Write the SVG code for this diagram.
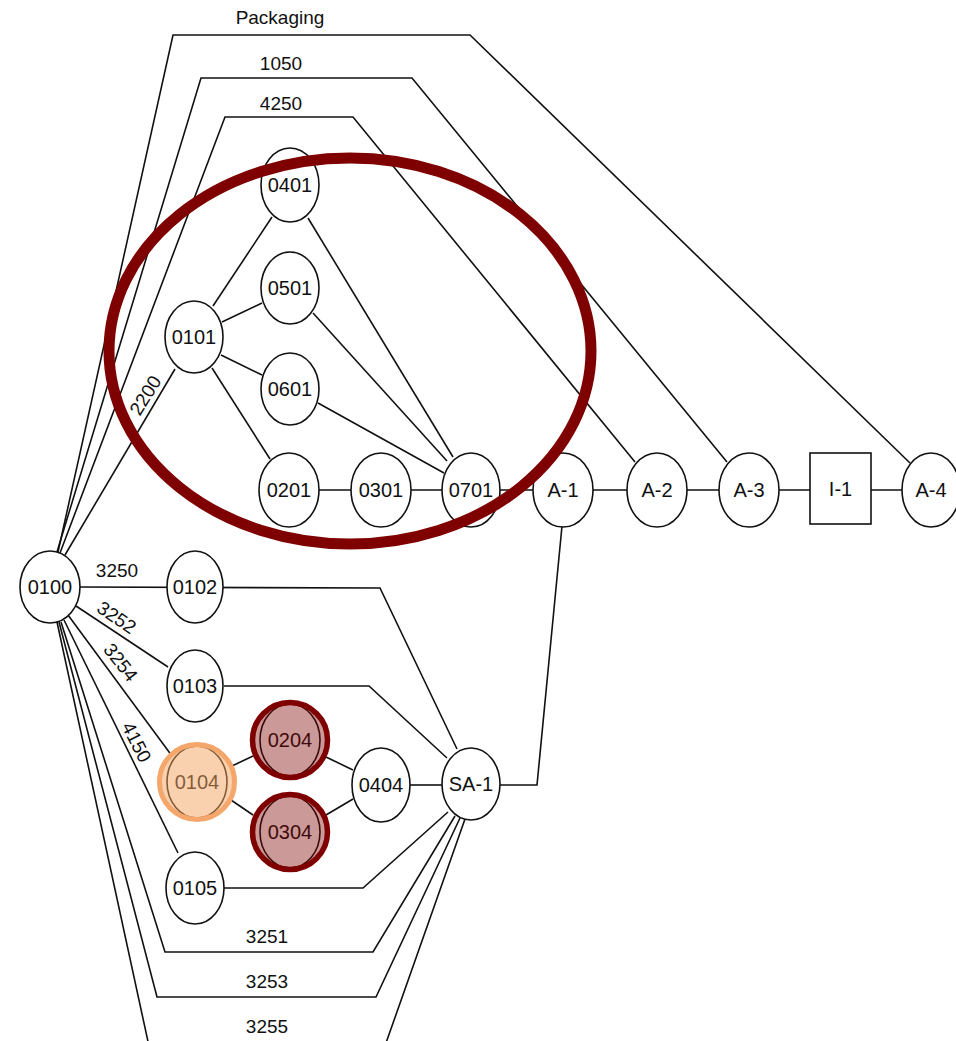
<svg xmlns="http://www.w3.org/2000/svg" width="956" height="1041" viewBox="0 0 956 1041">
  <style>
    .edge { fill: none; stroke: #111; stroke-width: 1.6; stroke-linejoin: miter; }
    .node ellipse, .node rect { fill: #fff; stroke: #111; stroke-width: 1.6; }
    .node text, .lbl { font-family: "Liberation Sans", Arial, sans-serif; font-size: 20px; fill: #111; text-anchor: middle; }
    .lbl { font-size: 19px; }
    .hl-orange { fill: rgba(244,164,96,0.5); stroke: #f5a66b; stroke-width: 5; }
    .hl-red { fill: rgba(128,0,0,0.4); stroke: #7f0000; stroke-width: 5.5; }
  </style>

  <rect width="956" height="1041" fill="#fff"/>

  <!-- connectors -->
  <g id="connectors">
    <path class="edge" d="M58,552 L173,35 L470,35 L910,463"/>
    <path class="edge" d="M57,552 L201,78 L412,78 L727,462"/>
    <path class="edge" d="M60,553 L225,117 L353,117 L635,462"/>
    <path class="edge" d="M65,555 L175,369"/>
    <path class="edge" d="M80,587 L380,588 L457,749"/>
    <path class="edge" d="M76,606 L168,667"/>
    <path class="edge" d="M224,686 L369,686 L447,758"/>
    <path class="edge" d="M68,615 L172,756"/>
    <path class="edge" d="M64,620 L178,853"/>
    <path class="edge" d="M61,622 L165,952 L373,952 L455,816"/>
    <path class="edge" d="M59,622 L157,997 L376,997 L460,818"/>
    <path class="edge" d="M57,622 L152,1060 L380,1060 L465,819"/>
    <path class="edge" d="M224,888 L363,888 L448,812"/>
    <path class="edge" d="M232,766 L253,756"/>
    <path class="edge" d="M231,800 L253,815"/>
    <path class="edge" d="M326,757 L353,770"/>
    <path class="edge" d="M326,815 L353,799"/>
    <path class="edge" d="M410,785 L442,785"/>
    <path class="edge" d="M500,785 L537,785 L562,526"/>
    <path class="edge" d="M213,306 L272,217"/>
    <path class="edge" d="M222,322 L262,303"/>
    <path class="edge" d="M221,355 L262,375"/>
    <path class="edge" d="M212,368 L270,459"/>
    <path class="edge" d="M308,218 L453,457"/>
    <path class="edge" d="M313,313 L447,461"/>
    <path class="edge" d="M318,403 L444,473"/>
    <path class="edge" d="M318,490 L905,490"/>

    <!-- connector labels -->
    <text class="lbl" x="280" y="24" font-size="18">Packaging</text>
    <text class="lbl" x="281" y="70">1050</text>
    <text class="lbl" x="281" y="110">4250</text>
    <text class="lbl" transform="translate(145,395) rotate(-58)" y="7">2200</text>
    <text class="lbl" x="117" y="577">3250</text>
    <text class="lbl" transform="translate(117,617) rotate(34)" y="7">3252</text>
    <text class="lbl" transform="translate(121,662) rotate(52)" y="7">3254</text>
    <text class="lbl" transform="translate(137,742) rotate(63)" y="7">4150</text>
    <text class="lbl" x="267" y="943">3251</text>
    <text class="lbl" x="267" y="988">3253</text>
    <text class="lbl" x="267" y="1033">3255</text>
  </g>

  <!-- nodes -->
  <g id="n0100" class="node"><ellipse cx="50" cy="587" rx="30" ry="36"/><text x="50" y="594">0100</text></g>
  <g id="n0101" class="node"><ellipse cx="194" cy="337" rx="29" ry="36"/><text x="194" y="344">0101</text></g>
  <g id="n0401" class="node"><ellipse cx="290" cy="185" rx="29" ry="37"/><text x="290" y="192">0401</text></g>
  <g id="n0501" class="node"><ellipse cx="290" cy="288" rx="29" ry="36"/><text x="290" y="295">0501</text></g>
  <g id="n0601" class="node"><ellipse cx="290" cy="389" rx="29" ry="36"/><text x="290" y="396">0601</text></g>
  <g id="n0201" class="node"><ellipse cx="289" cy="490" rx="30" ry="37"/><text x="289" y="497">0201</text></g>
  <g id="n0301" class="node"><ellipse cx="381" cy="490" rx="30" ry="37"/><text x="381" y="497">0301</text></g>
  <g id="n0701" class="node"><ellipse cx="471" cy="490" rx="29" ry="37"/><text x="471" y="497">0701</text></g>
  <g id="nA1" class="node"><ellipse cx="563" cy="490" rx="30" ry="37"/><text x="563" y="497">A-1</text></g>
  <g id="nA2" class="node"><ellipse cx="657" cy="490" rx="30" ry="37"/><text x="657" y="497">A-2</text></g>
  <g id="nA3" class="node"><ellipse cx="749" cy="490" rx="30" ry="37"/><text x="749" y="497">A-3</text></g>
  <g id="nI1" class="node"><rect x="810" y="453" width="61" height="71"/><text x="840.5" y="496">I-1</text></g>
  <g id="nA4" class="node"><ellipse cx="931" cy="490" rx="29" ry="37"/><text x="931" y="497">A-4</text></g>
  <g id="n0102" class="node"><ellipse cx="195" cy="587" rx="28" ry="36"/><text x="195" y="594">0102</text></g>
  <g id="n0103" class="node"><ellipse cx="195" cy="686" rx="28" ry="36"/><text x="195" y="693">0103</text></g>
  <g id="n0104" class="node"><ellipse cx="197" cy="782" rx="30" ry="36"/><text x="197" y="789">0104</text></g>
  <g id="n0204" class="node"><ellipse cx="290" cy="740" rx="30" ry="36"/><text x="290" y="747">0204</text></g>
  <g id="n0304" class="node"><ellipse cx="290" cy="832" rx="30" ry="36"/><text x="290" y="839">0304</text></g>
  <g id="n0404" class="node"><ellipse cx="381" cy="785" rx="29" ry="37"/><text x="381" y="792">0404</text></g>
  <g id="nSA1" class="node"><ellipse cx="471" cy="784" rx="29" ry="36"/><text x="471" y="791">SA-1</text></g>
  <g id="n0105" class="node"><ellipse cx="195" cy="888" rx="29" ry="36"/><text x="195" y="895">0105</text></g>

  <!-- highlights -->
  <g id="highlights">
    <circle class="hl-orange" cx="197" cy="782" r="37.5"/>
    <circle class="hl-red" cx="290" cy="740" r="37.5"/>
    <circle class="hl-red" cx="290" cy="832" r="37.5"/>
    <ellipse cx="350" cy="351" rx="241" ry="193" fill="none" stroke="#7f0000" stroke-width="11"/>
  </g>
</svg>
